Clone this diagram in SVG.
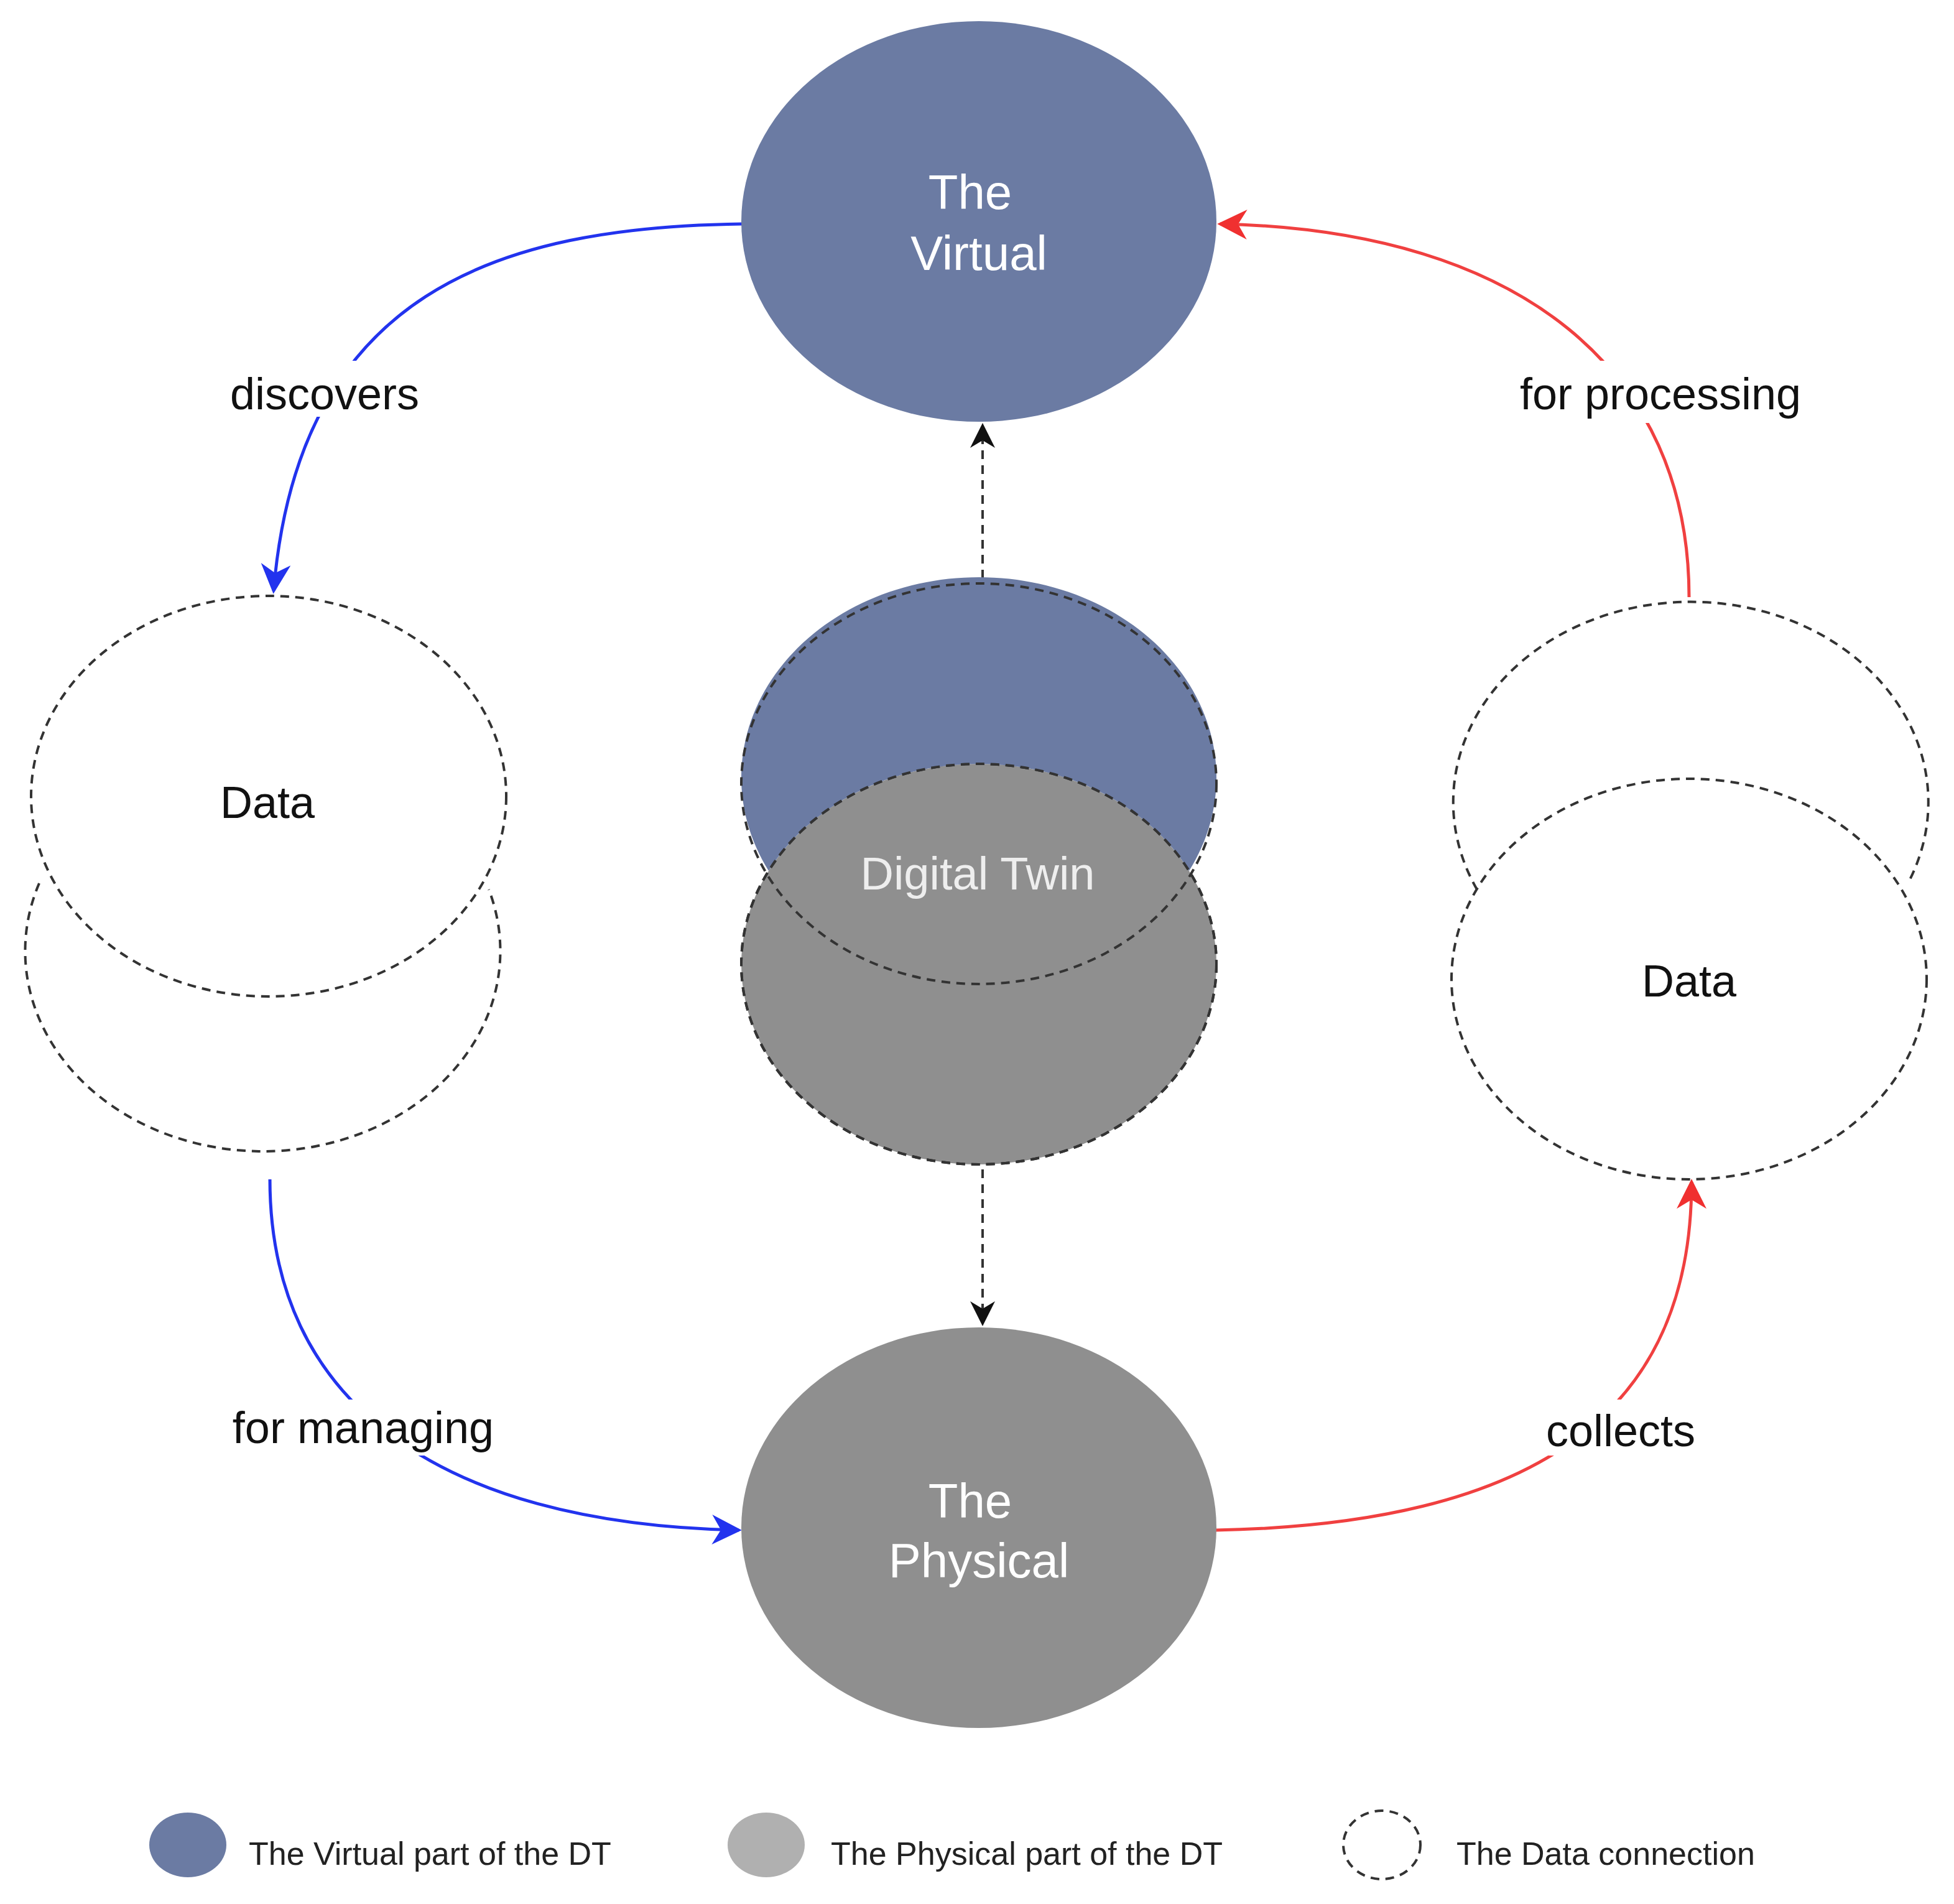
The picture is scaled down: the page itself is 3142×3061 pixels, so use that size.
<svg xmlns="http://www.w3.org/2000/svg" width="3142" height="3061" viewBox="0 0 3142 3061">
<style>
.lbl{font-family:"Liberation Sans",Arial,sans-serif;font-size:72px;fill:#111;text-anchor:middle}
.wt{font-family:"Liberation Sans",Arial,sans-serif;font-size:78px;fill:#fff;text-anchor:middle}
.lg{font-family:"Liberation Sans",Arial,sans-serif;font-size:52px;fill:#222}
.dash{fill:none;stroke:#333;stroke-width:4;stroke-dasharray:14 10}
.blue{fill:none;stroke:#2233ee;stroke-width:5}
.red{fill:none;stroke:#f04040;stroke-width:5}
</style>
<defs>
<marker id="ab" viewBox="0 0 10 10" refX="9" refY="5" markerWidth="8" markerHeight="8" orient="auto-start-reverse" markerUnits="userSpaceOnUse"><path d="M0,0L10,5L0,10L3,5z" fill="#2233ee" transform="scale(1)"/></marker>
<marker id="ar" viewBox="0 0 10 10" refX="9" refY="5" markerWidth="48" markerHeight="48" orient="auto" markerUnits="userSpaceOnUse"><path d="M0,0L10,5L0,10L3,5z" fill="#f03030"/></marker>
<marker id="ab2" viewBox="0 0 10 10" refX="9" refY="5" markerWidth="48" markerHeight="48" orient="auto" markerUnits="userSpaceOnUse"><path d="M0,0L10,5L0,10L3,5z" fill="#2233ee"/></marker>
<marker id="ak" viewBox="0 0 10 10" refX="9" refY="5" markerWidth="40" markerHeight="40" orient="auto" markerUnits="userSpaceOnUse"><path d="M0,0L10,5L0,10L3,5z" fill="#111"/></marker>
</defs>
<rect width="3142" height="3061" fill="#fff"/>
<g id="connectors">
<path class="blue" d="M1194,360 C800,365 480,470 440,950" marker-end="url(#ab2)"/>
<path class="blue" d="M434,1896 C434,2250 700,2450 1188,2460" marker-end="url(#ab2)"/>
<path class="red" d="M1954,2460 C2500,2450 2720,2250 2720,1900" marker-end="url(#ar)"/>
<path class="red" d="M2716,960 C2716,600 2450,370 1962,360" marker-end="url(#ar)"/>
<path class="dash" d="M1580,930 L1580,684" stroke-dasharray="10 8" marker-end="url(#ak)"/>
<path class="dash" d="M1580,1880 L1580,2128" stroke-dasharray="10 8" marker-end="url(#ak)"/>
</g>
<g id="labels">
<rect x="310" y="580" width="420" height="90" fill="#fff"/>
<text class="lbl" x="522" y="658">discovers</text>
<rect x="300" y="2250" width="580" height="90" fill="#fff"/>
<text class="lbl" x="584" y="2320">for managing</text>
<rect x="2440" y="2250" width="340" height="90" fill="#fff"/>
<text class="lbl" x="2606" y="2325">collects</text>
<rect x="2360" y="580" width="620" height="100" fill="#fff"/>
<text class="lbl" x="2670" y="658">for processing</text>
</g>
<g id="virtual"><ellipse cx="1574" cy="356" rx="382" ry="322" fill="#6b7ba3"/><text class="wt" x="1560" y="336">The</text><text class="wt" x="1574" y="434">Virtual</text></g>
<g id="physical"><ellipse cx="1574" cy="2456" rx="382" ry="322" fill="#8f8f8f"/><text class="wt" x="1560" y="2440">The</text><text class="wt" x="1574" y="2536">Physical</text></g>
<g id="digitaltwin">
<ellipse cx="1574" cy="1550" rx="382" ry="322" fill="#8f8f8f" class="dash" style="fill:#8f8f8f"/>
<path d="M1236,1400 A382,322 0 1 1 1912,1400 A382,322 0 0 0 1236,1400Z" fill="#6b7ba3"/>
<ellipse cx="1574" cy="1260" rx="382" ry="322" class="dash"/>
<ellipse cx="1574" cy="1550" rx="382" ry="322" class="dash"/>
<text class="wt" x="1572" y="1430" style="fill:#eee;font-size:74px">Digital Twin</text>
</g>
<g id="dataleft"><ellipse cx="432" cy="1280" rx="382" ry="322" class="dash"/><path class="dash" d="M63,1420 A382,322 0 1 0 786,1430"/><text class="lbl" x="430" y="1315">Data</text></g>
<g id="dataright"><path class="dash" d="M2375,1430 A382,322 0 1 1 3068,1420"/><ellipse cx="2716" cy="1574" rx="382" ry="322" class="dash"/><text class="lbl" x="2716" y="1602">Data</text></g>
<g id="legend">
<ellipse cx="302" cy="2966" rx="62" ry="52" fill="#6b7ba3"/>
<text class="lg" x="400" y="2998">The Virtual part of the DT</text>
<ellipse cx="1232" cy="2966" rx="62" ry="52" fill="#b0b0b0"/>
<text class="lg" x="1336" y="2998">The Physical part of the DT</text>
<ellipse cx="2222" cy="2966" rx="62" ry="55" class="dash"/>
<text class="lg" x="2342" y="2998">The Data connection</text>
</g>
</svg>
